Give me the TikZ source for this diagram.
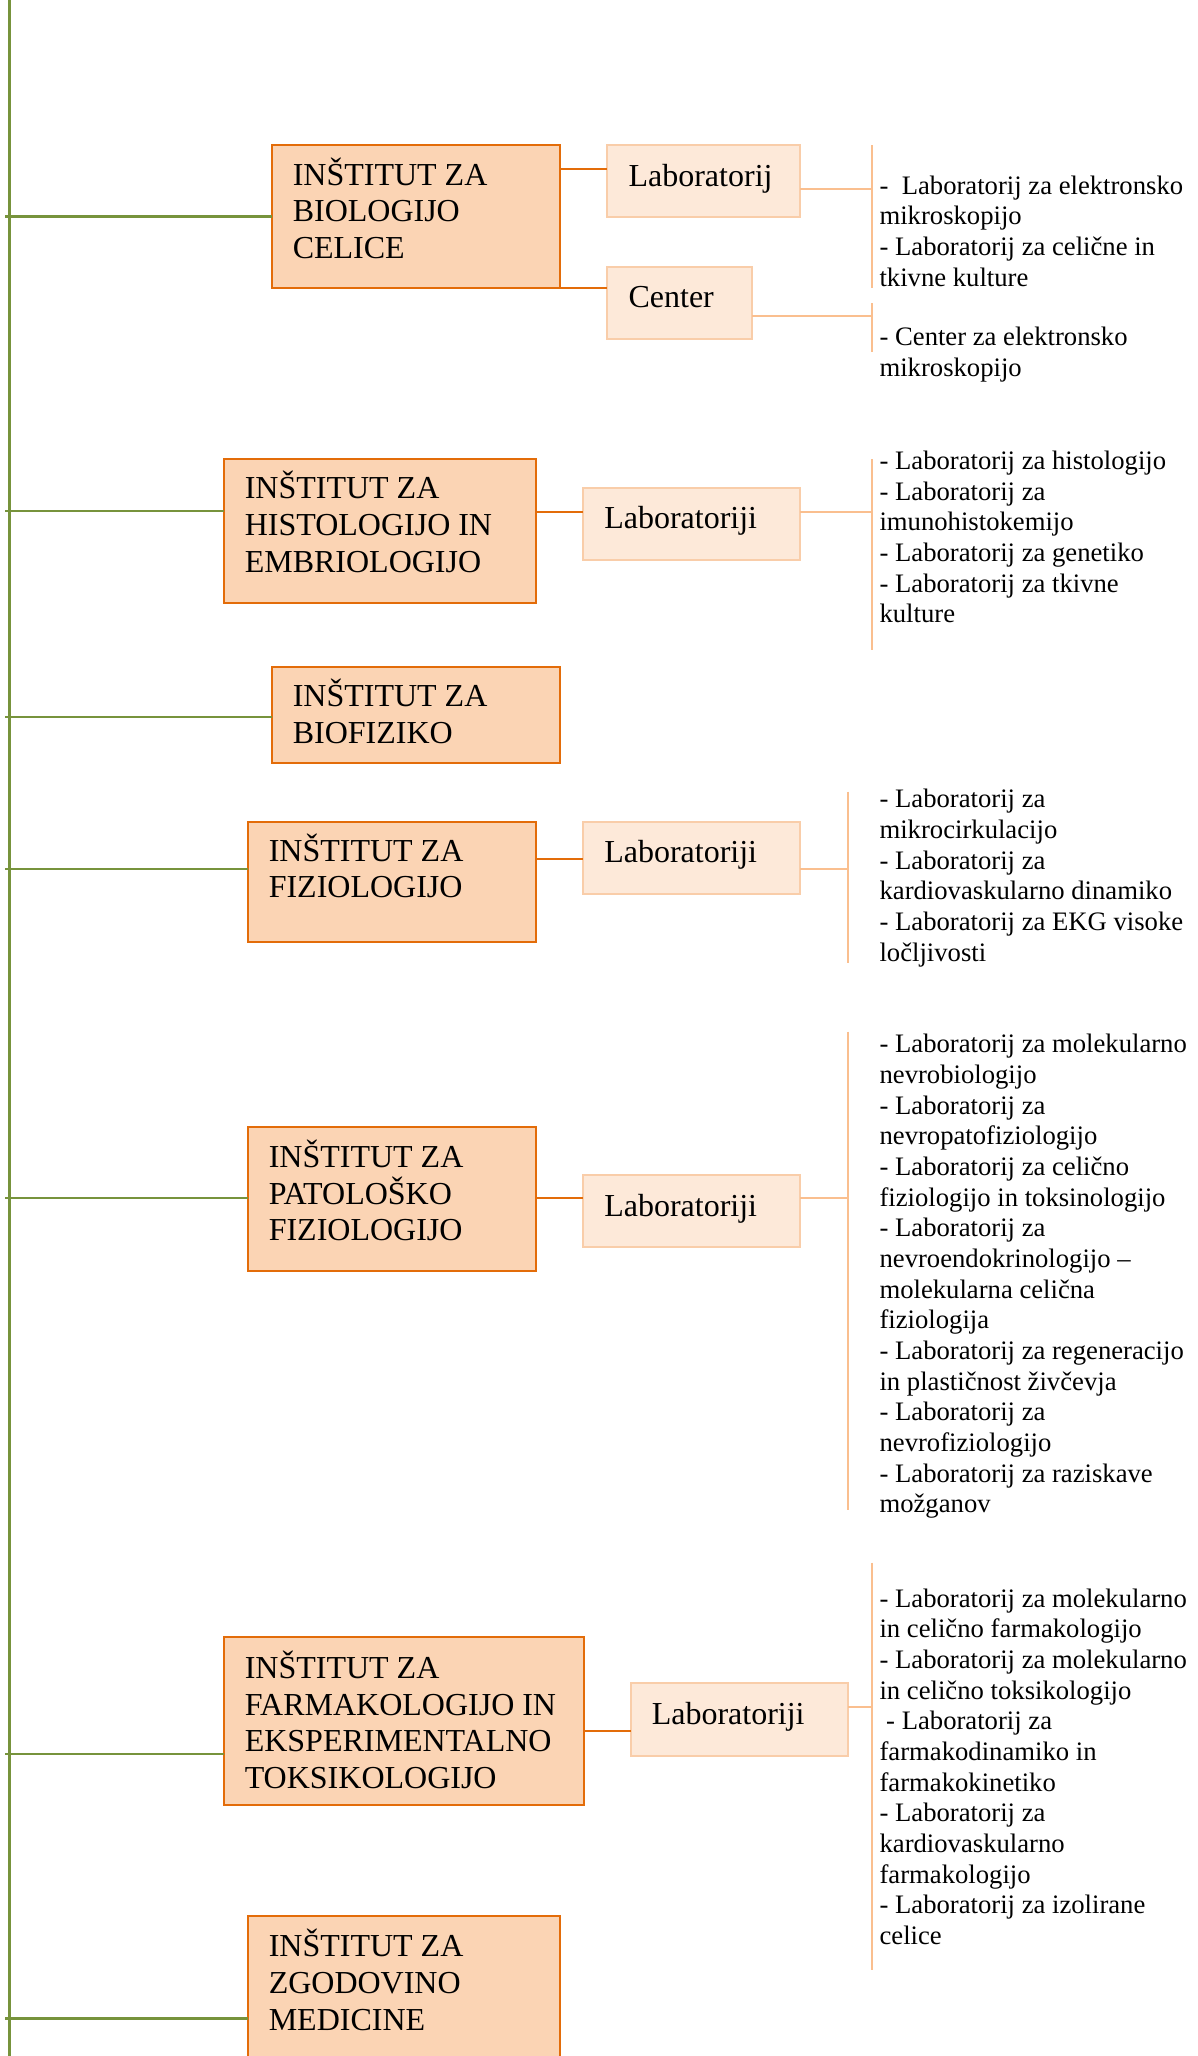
\documentclass[tikz,border=0pt]{standalone}
\usepackage{fontspec}
\setmainfont{Liberation Serif}
\usetikzlibrary{fit}
\definecolor{trunkgreen}{HTML}{77933C}
\definecolor{darkorange}{HTML}{E36C09}
\definecolor{boxfill}{HTML}{FBD4B4}
\definecolor{labfill}{HTML}{FDE9D9}
\definecolor{labline}{HTML}{FABF8F}
\definecolor{labborder}{HTML}{F9CDA9}
\tikzset{
  inst/.style={draw=darkorange, fill=boxfill, line width=1.5pt, inner sep=0pt, outer sep=0pt},
  lab/.style={draw=labborder, fill=labfill, line width=1.5pt, inner sep=0pt, outer sep=0pt},
  insttxt/.style={font=\fontsize{24}{27.6}\selectfont, align=left, inner sep=0pt, anchor=base west},
  labtxt/.style={font=\fontsize{24}{27.6}\selectfont, inner sep=0pt, anchor=base west},
  listtxt/.style={font=\fontsize{20}{23}\selectfont, align=left, inner sep=0pt, anchor=base west},
  trunk/.style={draw=trunkgreen, line width=1.6pt},
  branch/.style={draw=darkorange, line width=1.5pt},
  sub/.style={draw=labline, line width=1.5pt},
}
% base anchor of a multi-line node is its last baseline:
% BS = box line skip (px), LS = list line skip (px)
\def\BS{36.8}
\def\LS{30.667}
\begin{document}
\begin{tikzpicture}[x=0.75pt,y=-0.75pt]
\useasboundingbox (0,0) rectangle (1198,2056);
% trunk
\coordinate (top) at (9.5,-5);
\coordinate (bot) at (9.5,2062);
\draw[trunk] (top) -- (bot);

% institute boxes
\node[inst, fit={(271.5,144.7) (559.5,288.3)}] (b1) {};
\node[inst, fit={(223.5,458.5) (536,602.8)}] (b2) {};
\node[inst, fit={(271.5,667) (559.5,762.8)}] (b3) {};
\node[inst, fit={(247.5,821.7) (536,941.5)}] (b4) {};
\node[inst, fit={(247.5,1127) (536,1271)}] (b5) {};
\node[inst, fit={(223.5,1637) (584,1805)}] (b6) {};
\node[inst, fit={(247.5,1916) (559.5,2075)}] (b7) {};

\node[insttxt] (b1t) at (292.5,{185+2*\BS}) {INŠTITUT ZA\\BIOLOGIJO\\CELICE};
\node[insttxt] (b2t) at (244.5,{498.5+2*\BS}) {INŠTITUT ZA\\HISTOLOGIJO IN\\EMBRIOLOGIJO};
\node[insttxt] (b3t) at (292.5,{706.5+1*\BS}) {INŠTITUT ZA\\BIOFIZIKO};
\node[insttxt] (b4t) at (268.5,{861+1*\BS}) {INŠTITUT ZA\\FIZIOLOGIJO};
\node[insttxt] (b5t) at (268.5,{1167.3+2*\BS}) {INŠTITUT ZA\\PATOLOŠKO\\FIZIOLOGIJO};
\node[insttxt] (b6t) at (244.5,{1678.3+3*\BS}) {INŠTITUT ZA\\FARMAKOLOGIJO IN\\EKSPERIMENTALNO\\TOKSIKOLOGIJO};
\node[insttxt] (b7t) at (268.5,{1956.5+2*\BS}) {INŠTITUT ZA\\ZGODOVINO\\MEDICINE};

% green branches
\coordinate (g1) at (5,216.5);
\coordinate (g2) at (5,511.3);
\coordinate (g3) at (5,717.3);
\coordinate (g4) at (5,869);
\coordinate (g5) at (5,1198.3);
\coordinate (g6) at (5,1753.7);
\coordinate (g7) at (5,2018.5);
\draw[trunk] (g1) -- (g1 -| b1.west);
\draw[trunk] (g2) -- (g2 -| b2.west);
\draw[trunk] (g3) -- (g3 -| b3.west);
\draw[trunk] (g4) -- (g4 -| b4.west);
\draw[trunk] (g5) -- (g5 -| b5.west);
\draw[trunk] (g6) -- (g6 -| b6.west);
\draw[trunk] (g7) -- (g7 -| b7.west);

% lab boxes
\node[lab, fit={(607.3,144.7) (800,216.7)}] (l1a) {};
\node[lab, fit={(607.3,266.7) (752.3,339.3)}] (l1b) {};
\node[lab, fit={(583,488) (800,560)}] (l2) {};
\node[lab, fit={(583,821.7) (800,894)}] (l4) {};
\node[lab, fit={(583,1175) (800,1247)}] (l5) {};
\node[lab, fit={(630.5,1683.3) (848,1755.5)}] (l6) {};

\node[labtxt] (l1at) at (628.3,186.7) {Laboratorij};
\node[labtxt] (l1bt) at (628.3,307) {Center};
\node[labtxt] (l2t) at (604,528.5) {Laboratoriji};
\node[labtxt] (l4t) at (604,862.5) {Laboratoriji};
\node[labtxt] (l5t) at (604,1216) {Laboratoriji};
\node[labtxt] (l6t) at (651.5,1724.5) {Laboratoriji};

% orange connectors institute -> lab
\draw[branch] (b1.east |- 0,169) -- (l1a.west |- 0,169);
\draw[branch] (b1.east |- 0,288.3) -- (l1b.west |- 0,288.3);
\draw[branch] (b2.east |- 0,511.5) -- (l2.west |- 0,511.5);
\draw[branch] (b4.east |- 0,859.3) -- (l4.west |- 0,859.3);
\draw[branch] (b5.east |- 0,1198.3) -- (l5.west |- 0,1198.3);
\draw[branch] (b6.east |- 0,1731) -- (l6.west |- 0,1731);

% brackets
\coordinate (k1t) at (871.7,145);   \coordinate (k1b) at (871.7,288.3);
\coordinate (k1ct) at (871.7,303.3); \coordinate (k1cb) at (871.7,351.7);
\coordinate (k2t) at (871.7,459);   \coordinate (k2b) at (871.7,650);
\coordinate (k4t) at (848,791.6);   \coordinate (k4b) at (848,963.4);
\coordinate (k5t) at (848,1031.7);  \coordinate (k5b) at (848,1510);
\coordinate (k6t) at (871.7,1562.7); \coordinate (k6b) at (871.7,1970);
\draw[sub] (k1t) -- (k1b);
\draw[sub] (k1ct) -- (k1cb);
\draw[sub] (k2t) -- (k2b);
\draw[sub] (k4t) -- (k4b);
\draw[sub] (k5t) -- (k5b);
\draw[sub] (k6t) -- (k6b);

\draw[sub] (l1a.east |- 0,189) -- (k1t |- 0,189);
\draw[sub] (l1b.east |- 0,315.7) -- (k1ct |- 0,315.7);
\draw[sub] (l2.east |- 0,511.5) -- (k2t |- 0,511.5);
\draw[sub] (l4.east |- 0,869) -- (k4t |- 0,869);
\draw[sub] (l5.east |- 0,1198.3) -- (k5t |- 0,1198.3);
\draw[sub] (l6.east |- 0,1706.7) -- (k6t |- 0,1706.7);

% lists
\node[listtxt] (t1a) at (879.3,{194+3*\LS}) {-\ \ Laboratorij za elektronsko\\mikroskopijo\\- Laboratorij za celične in\\tkivne kulture};
\node[listtxt] (t1b) at (879.3,{345.7+1*\LS}) {- Center za elektronsko\\mikroskopijo};
\node[listtxt] (t2) at (879.3,{469.5+5*\LS}) {- Laboratorij za histologijo\\- Laboratorij za\\imunohistokemijo\\- Laboratorij za genetiko\\- Laboratorij za tkivne\\kulture};
\node[listtxt] (t4) at (879.3,{807.7+5*\LS}) {- Laboratorij za\\mikrocirkulacijo\\- Laboratorij za\\kardiovaskularno dinamiko\\- Laboratorij za EKG visoke\\ločljivosti};
\node[listtxt] (t5) at (879.3,{1052.8+15*\LS}) {- Laboratorij za molekularno\\nevrobiologijo\\- Laboratorij za\\nevropatofiziologijo\\- Laboratorij za celično\\fiziologijo in toksinologijo\\- Laboratorij za\\nevroendokrinologijo –\\molekularna celična\\fiziologija\\- Laboratorij za regeneracijo\\in plastičnost živčevja\\- Laboratorij za\\nevrofiziologijo\\- Laboratorij za raziskave\\možganov};
\node[listtxt] (t6) at (879.3,{1607+11*\LS}) {- Laboratorij za molekularno\\in celično farmakologijo\\- Laboratorij za molekularno\\in celično toksikologijo\\\ - Laboratorij za\\farmakodinamiko in\\farmakokinetiko\\- Laboratorij za\\kardiovaskularno\\farmakologijo\\- Laboratorij za izolirane\\celice};
\end{tikzpicture}
\end{document}
